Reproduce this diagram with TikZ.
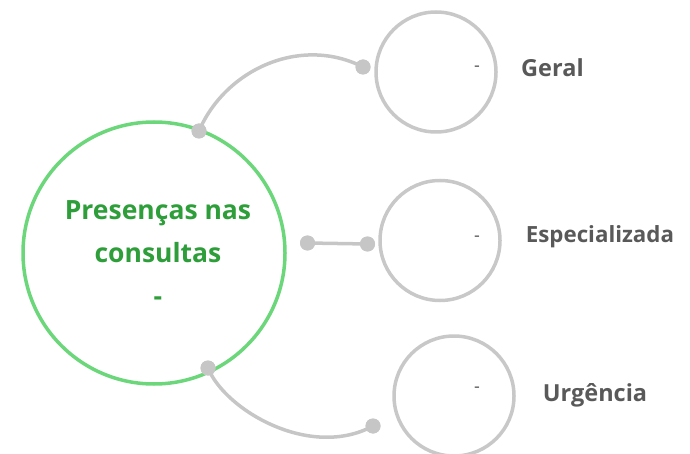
\documentclass[tikz,border=0pt]{standalone}
\usepackage{fontspec}
\setmainfont{Open Sans}
\definecolor{ringgreen}{RGB}{108,214,122}
\definecolor{textgreen}{RGB}{46,158,58}
\definecolor{ringgray}{RGB}{200,200,200}
\definecolor{dotgray}{RGB}{198,198,198}
\definecolor{labelgray}{RGB}{89,89,89}
\begin{document}
\begin{tikzpicture}[x=1pt,y=-1pt,
  bigring/.style={circle,draw=ringgreen,line width=3.5pt,minimum size=262pt,inner sep=0pt},
  smallring/.style={circle,draw=ringgray,line width=3.5pt,minimum size=120pt,inner sep=0pt},
  dotnode/.style={circle,fill=dotgray,minimum size=15pt,inner sep=0pt},
  link/.style={draw=dotgray,line width=3.5pt},
  catlabel/.style={font=\bfseries\fontsize{23.5}{28}\selectfont,text=labelgray,anchor=base west,inner sep=0pt},
  smalldash/.style={font=\fontsize{18}{20}\selectfont,text=labelgray,inner sep=0pt}]
\useasboundingbox (0,0) rectangle (690,454);
% rings
\node[bigring] (big) at (154,253) {};
\node[smallring] (r1) at (436,72) {};
\node[smallring] (r2) at (440,240.5) {};
\node[smallring] (r3) at (454,396) {};
% dots
\node[dotnode] (a1) at (199,131) {};
\node[dotnode] (b1) at (363,67) {};
\node[dotnode] (a2) at (307.5,243) {};
\node[dotnode] (b2) at (367.5,244) {};
\node[dotnode] (a3) at (208,368) {};
\node[dotnode] (b3) at (373,426) {};
% connectors
\draw[link] (a1.center) .. controls (225,70) and (300,35) .. (b1.center);
\draw[link] (a2.center) -- (b2.center);
\draw[link] (a3.center) .. controls (225,410) and (310,460) .. (b3.center);
% redraw dots on top
\fill[dotgray] (a1) circle (7.5pt) (b1) circle (7.5pt) (a2) circle (7.5pt)
  (b2) circle (7.5pt) (a3) circle (7.5pt) (b3) circle (7.5pt);
% main text
\node[font=\bfseries\fontsize{26.5}{43}\selectfont,text=textgreen,align=center,inner sep=0pt] (main) at (158,253) {Presenças nas\\consultas\\-};
% small dashes
\node[smalldash] (s1) at (477,69) {-};
\node[smalldash] (s2) at (477,239) {-};
\node[smalldash] (s3) at (477,390) {-};
% labels
\node[catlabel] (l1) at (521,77) {Geral};
\node[catlabel,font=\bfseries\fontsize{22.3}{28}\selectfont] (l2) at (525.7,242.7) {Especializada};
\node[catlabel] (l3) at (542.7,401.7) {Urgência};
\end{tikzpicture}
\end{document}
